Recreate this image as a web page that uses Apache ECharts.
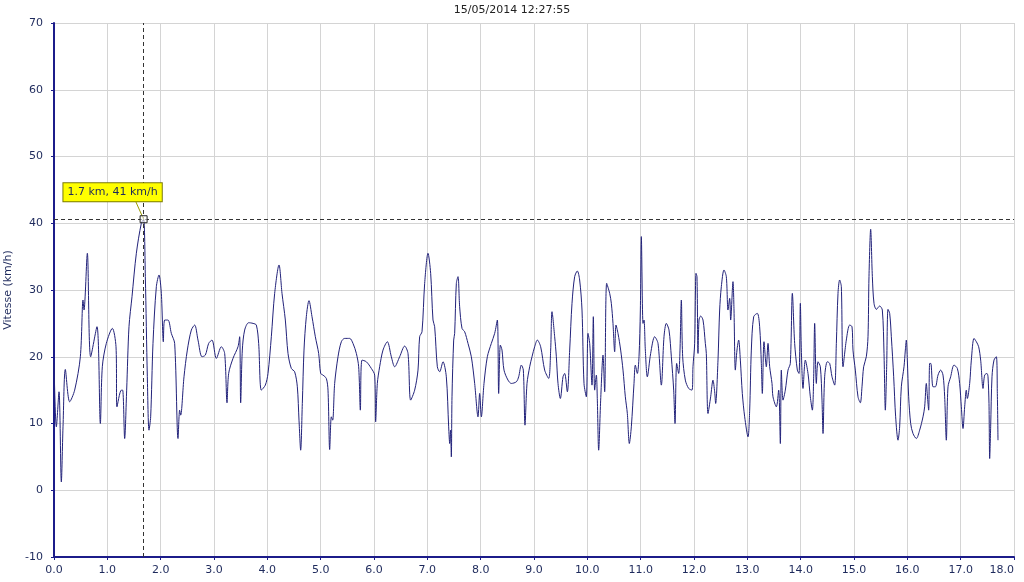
<!DOCTYPE html>
<html>
<head>
<meta charset="utf-8">
<script src="https://cdn.jsdelivr.net/npm/echarts@6/dist/echarts.min.js"></script>
<style>
html,body{margin:0;padding:0;background:#fff;}
#chart{width:1024px;height:582px;}
</style>
</head>
<body>
<div id="chart"></div>
<script>
const chartTitle = '15/05/2014 12:27:55';
const yAxisName = 'Vitesse (km/h)';
const cursorKm = 1.68;
const cursorSpeed = 40.6;
const cursorLabel = '1.7 km, 41 km/h';

const distanceKm = [
0.0,0.044,0.094,0.1375,0.169,0.2125,0.294,0.3875,0.494,0.544,0.5625,0.625,0.6875,0.806,0.869,0.906,0.981,1.094,1.1625,1.181,1.2625,1.2875,1.325,1.3625,1.406,
1.4625,1.544,1.6375,1.68,1.7125,1.75,1.781,1.8125,1.856,1.919,1.969,2.0125,2.05,2.075,2.1375,2.2,2.2625,2.325,2.356,2.375,2.4375,2.5,2.575,2.6375,2.7,2.775,2.8375,2.9,2.9625,
3.044,3.1375,3.2,3.244,3.275,3.356,3.45,3.481,3.5,3.531,3.575,3.65,3.731,3.794,3.8375,3.8875,3.9625,4.0125,4.075,4.1375,4.219,4.275,4.3375,4.3875,
4.45,4.5125,4.5625,4.594,4.625,4.656,4.6875,4.731,4.781,4.8375,4.9,4.9625,5.0,5.044,5.106,5.1375,5.169,5.2,5.225,5.2625,5.325,5.3875,5.45,5.544,5.606,5.669,5.7125,5.744,5.775,5.856,5.95,
6.0125,6.031,6.0625,6.106,6.169,6.25,6.325,6.3875,6.481,6.575,6.6375,6.6875,6.7625,6.825,6.856,6.9,6.95,7.0125,7.0625,7.106,7.1375,7.1875,7.231,7.294,7.356,7.40,7.42,7.435,7.45,
7.4625,7.494,7.5125,7.544,7.575,7.606,7.65,7.7,7.7625,7.825,7.8875,7.95,7.981,8.0125,8.0625,8.125,8.2,8.2625,8.3125,8.3375,8.369,8.4,8.4375,8.5125,8.575,8.669,8.7125,8.7625,8.8,8.831,8.869,8.919,8.9625,
9.0125,9.0625,9.125,9.2,9.275,9.3125,9.3375,9.3875,9.419,9.45,9.494,9.544,9.575,9.625,9.669,9.7125,9.7625,9.8125,9.856,9.9,9.9375,9.981,10.0125,10.044,10.0875,10.1125,10.1375,10.169,10.1875,10.2125,10.25,10.294,10.325,10.3625,10.419,
10.45,10.481,10.5125,10.5375,10.575,10.625,10.669,10.7125,10.75,10.7875,10.825,10.875,10.9,10.9375,10.969,10.994,11.0125,11.044,11.0625,11.0875,11.125,11.1875,11.2625,11.325,11.3875,11.4375,11.481,11.531,11.575,11.619,11.644,11.675,11.7125,11.7375,11.7625,11.7875,11.8375,11.9,11.9625,
11.981,12.0125,12.0375,12.056,12.075,12.094,12.125,12.169,12.2125,12.231,12.2625,12.3125,12.356,12.3875,12.406,12.45,12.481,12.5125,12.5625,12.606,12.6375,12.669,12.6875,12.731,12.75,12.775,12.806,12.8375,12.869,12.906,12.95,13.0125,13.044,13.075,13.119,13.1875,13.231,13.2625,13.281,13.3125,13.356,13.3875,13.419,13.4625,
13.481,13.544,13.5875,13.619,13.6375,13.669,13.7125,13.7625,13.806,13.844,13.8875,13.9375,13.969,13.994,14.0125,14.044,14.0875,14.1375,14.181,14.219,14.244,14.2625,14.294,14.325,14.369,14.4,14.419,14.45,14.5,14.544,14.5875,14.6375,14.669,14.7,14.731,14.7625,14.794,14.856,14.919,14.9625,
14.981,15.025,15.075,15.119,15.15,15.181,15.231,15.2625,15.281,15.3125,15.344,15.375,15.419,15.481,15.531,15.5625,15.5875,15.6125,15.6375,15.669,15.7,15.744,15.781,15.825,15.856,15.8875,15.9375,15.9625,15.981,16.0,16.025,16.0625,16.106,16.169,16.231,16.294,16.325,16.356,16.375,16.4,16.419,16.44,
16.481,16.525,16.575,16.625,16.669,16.7,16.731,16.7625,16.8125,16.875,16.9375,16.981,17.0125,17.044,17.075,17.106,17.125,17.169,17.2,17.25,17.294,17.3375,17.375,17.419,17.45,17.494,17.5125,17.531,17.544,17.5625,17.5875,17.625,17.669,17.6875,17.7
];

const speedKmh = [
19,9.5,14.75,1.25,9.5,18.1,13.25,15,20,28.5,27,35.5,20,24.5,10,18.5,22,24.25,21.5,12.5,15,15,7.75,15,24.5,
29,35.5,40,40.6,32,17,9,11,22,30.5,32.25,29.5,22.25,25.5,25.5,23.5,22,7.75,12,11.25,17,21,24,24.75,22.5,20,20.25,22,22.5,
19.75,21.5,20.5,13.1,17.5,19.75,21.5,23,13.1,21,24,25.1,25,24.75,22,15,15.75,17.5,23,29.5,33.75,29.5,25.5,20.5,
18.25,17.75,15.5,10.5,6,13,21,26,28.4,26,23,20.5,17.5,17.25,16.75,15,6.1,11,10.5,16,20,22.25,22.75,22.75,22,20.5,18.5,12,19.5,19.25,18.25,
17.25,10.25,16,18.5,21,22.25,20,18.5,20,21.6,20.5,13.5,15,18,23,23.75,31,35.5,32.5,25.5,24.5,18.5,17.75,19.25,17,9.5,7,9,5,
14,22.5,23.5,31,32,27.5,24.25,23.75,22,20,16,11,14.5,11,16,20,22,23.5,25.5,14.5,21.75,21,18,16.5,16,16.25,17,18.75,18,9.75,16,18.5,20,
21.5,22.5,21.5,18,16.75,21,26.75,23,20,16,13.75,17,17.5,14.75,21,28,32,32.85,31.5,27,16,14,23.5,22,15.75,26,15,17.25,13.5,6,13.5,20.25,14.75,31,29.5,
28,25,20.75,24.75,23.5,21,18,14,11.5,7,9.5,16,18.75,17.5,20,27,38,25,25.5,21,17,20.5,23,22,15.75,23,25,24,20,15,10,19,17.5,21,28.5,20,16.5,15.25,15,
18.5,22,32.5,32,20.5,25.5,26.1,25.5,22,20.5,11.5,14,16.5,14.75,13,19.5,27,30.5,33,32,27,28.75,25.5,31.25,27,18,21,22.5,19.5,14.5,11,8,12,21,26,26.5,24.5,19,14.5,22.25,18.5,22,18.5,16,
14,12.5,15,7,18,13.5,15,18,19,29.5,22,18,17.5,28,21,15.25,19.5,17.5,14,12,17,25,16,19.25,18.5,13.5,8.5,17,19.25,19,17,15.75,22,29.5,31.5,30.5,18.5,22.5,24.75,24.5,
21,18,14,13.1,15.5,18.5,20,23,32,39.1,32,28,27.1,27.6,27,20.5,12,18.5,27.1,26.5,23,17,11,7.5,9.5,15.5,18.5,21,22.5,19.5,14,10,8.5,7.75,9,11,12.5,16,14.25,12,19,19,
15.5,15.5,17.25,18,17.25,14,7.5,15.5,17,18.75,18.25,16,12.5,9.25,12.5,15,13.75,16,19.5,22.75,22.25,21.5,19.5,15.25,17.25,17.5,17,13,4.75,9.5,17,19.5,20,14.5,7.5
];

const seriesData = distanceKm.map((d, i) => [d, speedKmh[i]]);

const navy = '#1c1c8a';
const textColor = '#1e2a5c';
const font = 'DejaVu Sans';

const chart = echarts.init(document.getElementById('chart'), null, {renderer: 'canvas'});
chart.setOption({
  animation: false,
  backgroundColor: '#ffffff',
  title: {
    text: chartTitle,
    left: 'center',
    top: 0,
    textStyle: {fontFamily: font, fontSize: 11, fontWeight: 'normal', color: '#222'}
  },
  grid: {left: 54, right: 10, top: 23, bottom: 25, containLabel: false, outerBoundsMode: 'none'},
  xAxis: {
    type: 'value',
    min: 0, max: 18, interval: 1,
    axisLine: {show: true, onZero: false, lineStyle: {color: navy, width: 2}},
    axisTick: {show: true, length: 3, lineStyle: {color: navy}},
    axisLabel: {fontFamily: font, fontSize: 11, color: textColor, margin: 8,
      alignMaxLabel: 'right',
      formatter: v => v.toFixed(1)},
    splitLine: {show: true, lineStyle: {color: '#d4d4d4', width: 1}}
  },
  yAxis: {
    type: 'value',
    min: -10, max: 70, interval: 10,
    name: yAxisName,
    nameLocation: 'middle',
    nameGap: 40,
    nameTextStyle: {fontFamily: font, fontSize: 11, color: textColor},
    axisLine: {show: true, onZero: false, lineStyle: {color: navy, width: 2}},
    axisTick: {show: true, length: 3, lineStyle: {color: navy}},
    axisLabel: {fontFamily: font, fontSize: 11, color: textColor, margin: 11},
    splitLine: {show: true, lineStyle: {color: '#d4d4d4', width: 1}}
  },
  series: [{
    type: 'line',
    data: seriesData,
    showSymbol: false,
    smooth: 0.3,
    lineStyle: {color: '#22227a', width: 1},
    markLine: {
      silent: true,
      symbol: 'none',
      label: {show: false},
      data: [
        {xAxis: cursorKm, lineStyle: {color: '#333', type: [4, 3], width: 1}},
        {yAxis: cursorSpeed, lineStyle: {color: '#333', type: [4, 3], width: 1}},
        [{coord: [1.53, 43.3], lineStyle: {color: '#9c9c00', type: 'solid', width: 1}}, {coord: [cursorKm, cursorSpeed]}]
      ]
    },
    markPoint: {
      silent: true,
      data: [{
        coord: [cursorKm, cursorSpeed],
        symbol: 'rect',
        symbolSize: 7,
        itemStyle: {color: 'rgba(255,255,255,0.6)', borderColor: '#222', borderWidth: 1},
        label: {
          show: true,
          position: 'inside',
          offset: [-31, -27],
          formatter: cursorLabel,
          backgroundColor: '#ffff00',
          borderColor: '#7a7a00',
          borderWidth: 1,
          padding: [4, 4, 3, 4],
          fontFamily: font,
          fontSize: 11,
          color: '#1e2a5c'
        }
      }]
    }
  }]
});
</script>
</body>
</html>
